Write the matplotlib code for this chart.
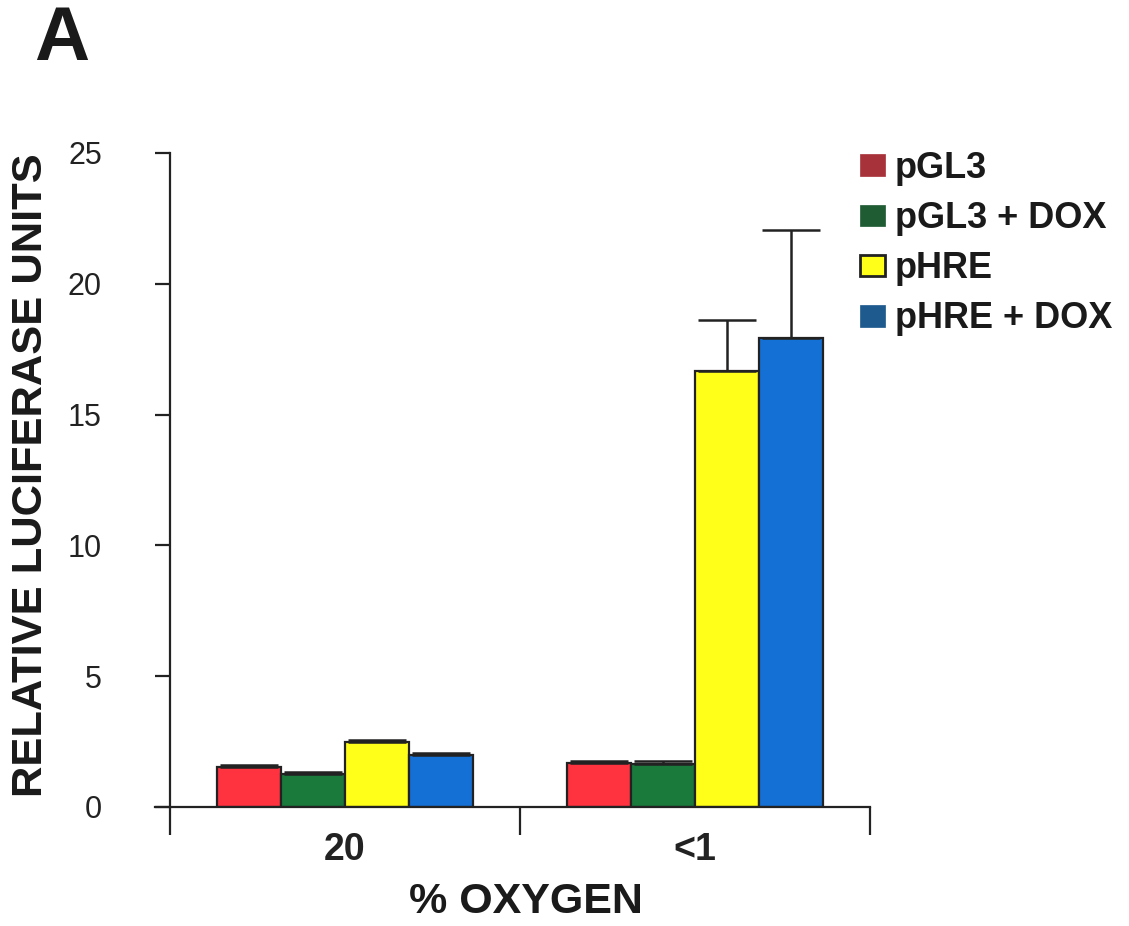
import numpy as np
import matplotlib
matplotlib.use("Agg")
import matplotlib.pyplot as plt
from matplotlib.patches import Patch

plt.rcParams['font.family'] = ['Liberation Sans', 'DejaVu Sans']

groups = ['20', '<1']
series = ['pGL3', 'pGL3 + DOX', 'pHRE', 'pHRE + DOX']
means = np.array([[1.52, 1.25, 2.50, 2.00],
                  [1.68, 1.66, 16.67, 17.94]])
errs = np.array([[0.07, 0.10, 0.08, 0.07],
                 [0.08, 0.08, 1.93, 4.12]])
bar_colors = ['#FF3340', '#1A7A3C', '#FFFF1A', '#1570D6']
legend_colors = ['#A8323A', '#1F5B33', '#FFFF1A', '#1F5A8E']

fig = plt.figure(figsize=(11.29, 9.26), dpi=100)
ax = fig.add_axes([155/1129, 1-807/926, 715/1129, 654/926])

w = 0.183
x = np.arange(len(groups))
for i in range(len(series)):
    pos = x + (i - 1.5) * w
    ax.bar(pos, means[:, i], w, color=bar_colors[i], edgecolor='#222222',
           linewidth=1.6, zorder=2)
    ax.errorbar(pos, means[:, i], yerr=[np.zeros(len(groups)), errs[:, i]],
                fmt='none', ecolor='#222222', elinewidth=1.8, capsize=21,
                capthick=1.8, zorder=3)

ax.set_xlim(-0.543, 1.5)
ax.set_ylim(0, 25)
ax.spines['top'].set_visible(False)
ax.spines['right'].set_visible(False)
ax.spines['left'].set_position(('data', -0.5))
ax.spines['left'].set_linewidth(1.6)
ax.spines['bottom'].set_linewidth(1.6)
ax.spines['left'].set_color('#222222')
ax.spines['bottom'].set_color('#222222')

ax.set_yticks([0, 5, 10, 15, 20, 25])
ax.tick_params(axis='y', direction='out', length=11, width=1.6, pad=38,
               labelsize=22, colors='#222222')
ax.set_xticks(x)
ax.set_xticklabels(groups, fontweight='bold', fontsize=27)
ax.set_xticks([-0.5, 0.5, 1.5], minor=True)
ax.tick_params(axis='x', which='major', length=0, pad=18, colors='#222222')
ax.tick_params(axis='x', which='minor', direction='out', length=20,
               width=1.6, color='#222222')

fig.text(31/1129, 1-475/926, 'RELATIVE LUCIFERASE UNITS', rotation=90,
         ha='center', va='center', fontsize=31.3, fontweight='bold',
         color='#1a1a1a')
fig.text(526/1129, 1-902/926, '% OXYGEN', ha='center', va='center',
         fontsize=31, fontweight='bold', color='#1a1a1a')
fig.text(62/1129, 1-40/926, 'A', ha='center', va='center',
         fontsize=55, fontweight='bold', color='#1a1a1a')

handles = []
for i in range(len(series)):
    ec = '#222222' if i == 2 else legend_colors[i]
    handles.append(Patch(facecolor=legend_colors[i], edgecolor=ec,
                         linewidth=2.0 if i == 2 else 0.5))
leg = fig.legend(handles, series, loc='upper left',
                 bbox_to_anchor=(860/1129, 1-151/926), frameon=False,
                 prop={'size': 26, 'weight': 'bold'}, handlelength=0.68,
                 handleheight=0.55, handletextpad=0.28, labelspacing=0.42,
                 borderpad=0, borderaxespad=0)
for t in leg.get_texts():
    t.set_color('#1a1a1a')

fig.savefig('out.png', dpi=100)
